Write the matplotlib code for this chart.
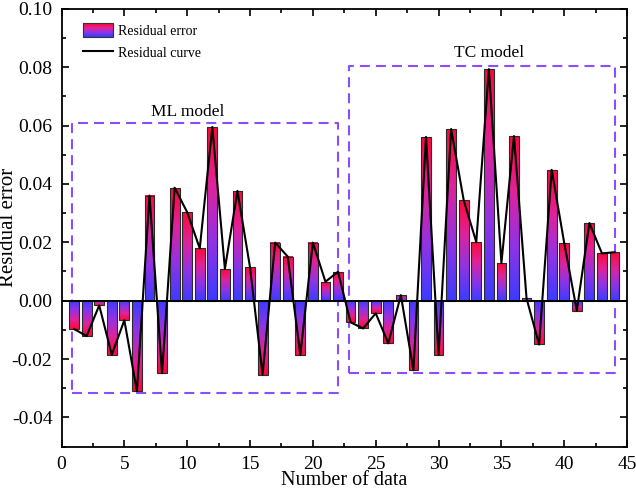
import numpy as np
import matplotlib
matplotlib.use('Agg')
import matplotlib.pyplot as plt
from matplotlib.colors import LinearSegmentedColormap
from matplotlib.patches import Rectangle
from matplotlib.legend_handler import HandlerBase
from matplotlib.lines import Line2D
from matplotlib.ticker import MultipleLocator, FormatStrFormatter

plt.rcParams['font.family'] = ['Liberation Serif', 'DejaVu Serif']
plt.rcParams['axes.unicode_minus'] = False

# residual errors, data points 1..44 (1-22 ML model, 23-44 TC model)
data_index = list(range(1, 45))
residuals = [-0.0097, -0.0121, -0.0016, -0.0185, -0.0067, -0.0310, 0.0360, -0.0248,
             0.0387, 0.0303, 0.0179, 0.0595, 0.0109, 0.0376, 0.0114, -0.0253,
             0.0199, 0.0151, -0.0185, 0.0199, 0.0065, 0.0099,
             -0.0074, -0.0095, -0.0043, -0.0146, 0.0019, -0.0238, 0.0561, -0.0185,
             0.0588, 0.0344, 0.0201, 0.0793, 0.0129, 0.0564, 0.0008, -0.0150,
             0.0448, 0.0197, -0.0034, 0.0266, 0.0162, 0.0166]

# dashed boxes around each model group: (x0, x1, y0, y1)
ml_box = (0.85, 22.0, -0.0317, 0.0607)
tc_box = (22.9, 44.0, -0.0249, 0.0805)

cmap = LinearSegmentedColormap.from_list(
    'res', ['#3a3cff', '#8f33e6', '#e0229a', '#ff0838'])
grad = np.linspace(0, 1, 256).reshape(-1, 1)
box_color = '#8a4dff'
bar_w = 0.78


class HandlerGradient(HandlerBase):
    def create_artists(self, legend, orig_handle, xdescent, ydescent,
                       width, height, fontsize, trans):
        arts = []
        n = 30
        for k in range(n):
            r = Rectangle((-xdescent, -ydescent + height * k / n), width, height / n + 0.05,
                          facecolor=cmap(k / (n - 1)), edgecolor='none', transform=trans)
            arts.append(r)
        arts.append(Rectangle((-xdescent, -ydescent), width, height, facecolor='none',
                              edgecolor='#333333', lw=0.8, transform=trans))
        return arts


fig = plt.figure(figsize=(6.36, 4.9), dpi=100)
ax = fig.add_axes([0.0967, 0.0884, 0.8893, 0.8938])

for x, v in zip(data_index, residuals):
    ax.imshow(grad, cmap=cmap, origin='lower', aspect='auto',
              extent=(x - bar_w / 2, x + bar_w / 2, 0, v), zorder=2)
ax.bar(data_index, residuals, width=bar_w, fill=False, edgecolor='#2a2a2a',
       linewidth=0.8, zorder=3)
ax.axhline(0, color='black', lw=1.4, zorder=4)
ax.plot(data_index, residuals, color='black', lw=1.5, zorder=5)

for (x0, x1, y0, y1) in (ml_box, tc_box):
    ax.plot([x0, x1, x1, x0, x0], [y0, y0, y1, y1, y0], color=box_color, lw=1.5,
            dashes=(4.8, 2.9), zorder=1)

ax.text(10.0, 0.0647, 'ML model', ha='center', va='center', fontsize=12.5)
ax.text(34.0, 0.0850, 'TC model', ha='center', va='center', fontsize=12.5)

ax.set_xlim(0, 45)
ax.set_ylim(-0.05, 0.10)
ax.xaxis.set_major_locator(MultipleLocator(5))
ax.xaxis.set_minor_locator(MultipleLocator(2.5))
ax.yaxis.set_major_locator(MultipleLocator(0.02))
ax.yaxis.set_minor_locator(MultipleLocator(0.01))
ax.yaxis.set_major_formatter(FormatStrFormatter('%.2f'))
ax.tick_params(which='both', direction='in', top=True, right=True, labelsize=14, width=1.2)
ax.tick_params(which='major', length=5)
ax.tick_params(which='minor', length=3)
ax.tick_params(axis='y', which='major', pad=6.5)
ax.tick_params(axis='x', which='major', pad=6.5)
for s in ax.spines.values():
    s.set_linewidth(1.3)

ax.set_xlabel('Number of data', fontsize=14.5)
ax.xaxis.set_label_coords(0.5, -0.0555)
ax.set_ylabel('Residual error', fontsize=15, va='center')
ax.yaxis.set_label_coords(-0.093, 0.5)

handles = [Rectangle((0, 0), 1, 1), Line2D([], [], color='black', lw=1.5)]
ax.legend(handles, ['Residual error', 'Residual curve'], loc='upper left',
          bbox_to_anchor=(0.0153, 0.995), frameon=False, fontsize=10,
          handlelength=2.16, handleheight=1.1, handletextpad=0.36, labelspacing=0.55,
          handler_map={Rectangle: HandlerGradient()})

fig.savefig('out.png', dpi=100)
